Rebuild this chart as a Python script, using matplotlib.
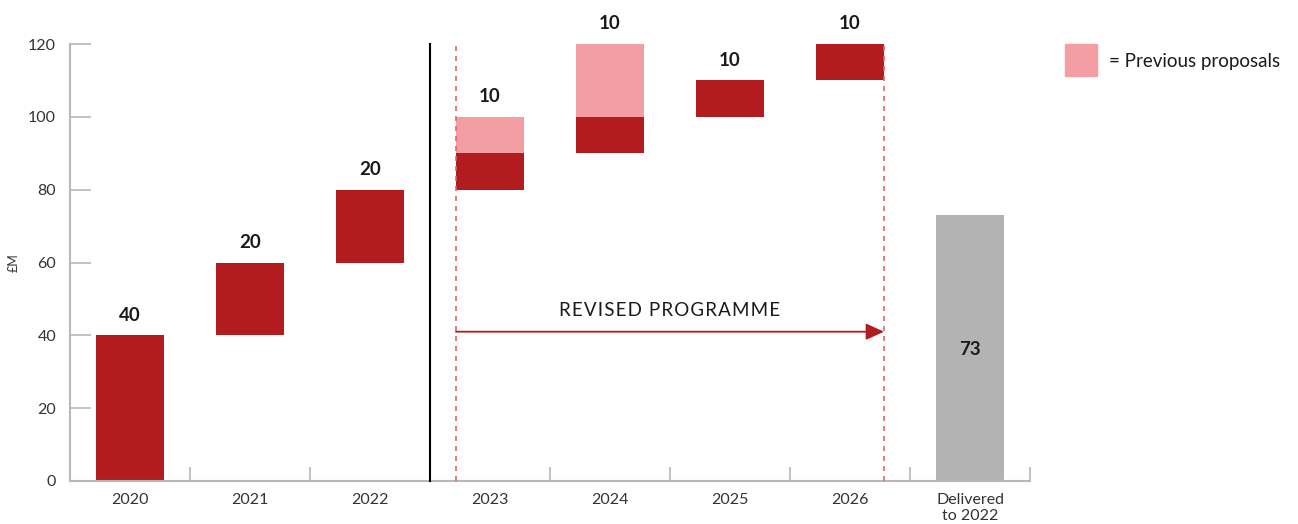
import matplotlib.pyplot as plt
from matplotlib.patches import Rectangle
import numpy as np

plt.rcParams['font.family'] = ['Lato', 'DejaVu Sans']

categories = ['2020', '2021', '2022', '2023', '2024', '2025', '2026', 'Delivered\nto 2022']
bases = [0, 40, 60, 80, 90, 100, 110]
revised = [40, 20, 20, 10, 10, 10, 10]
previous = [0, 0, 0, 10, 20, 0, 0]
labels = ['40', '20', '20', '10', '10', '10', '10']
delivered = 73

dark_red = '#b21c1e'
pink = '#f29ea3'
grey = '#b3b3b3'
axis_grey = '#b8b8b8'

fig = plt.figure(figsize=(12.98, 5.24), dpi=100)
ax = fig.add_axes([70 / 1298, 1 - 481 / 524, 960 / 1298, 437 / 524])

x = np.arange(len(categories))
w = 0.567
n = len(revised)

ax.bar(x[:n], revised, bottom=bases, width=w, color=dark_red, zorder=2)
tops = np.array(bases) + np.array(revised)
ax.bar(x[:n], previous, bottom=tops, width=w, color=pink, zorder=2)
ax.bar(x[n], delivered, width=w, color=grey, zorder=2)

for i in range(n):
    ax.text(x[i], tops[i] + previous[i] + 5.5, labels[i], ha='center', va='center',
            fontsize=13.5, fontweight='bold', color='#1a1a1a')
ax.text(x[n], 36, str(delivered), ha='center', va='center', fontsize=13.5,
        fontweight='bold', color='#1a1a1a')

# separator and programme markers
ax.plot([2.5, 2.5], [0, 120], color='black', lw=1.5, zorder=3, clip_on=False)
left = x[3] - w / 2
right = x[6] + w / 2
for xx in [left, right]:
    ax.plot([xx, xx], [0, 120], color='#d9676b', lw=1.2, ls=(0, (3, 3)), zorder=3, clip_on=False)
ax.annotate('', xy=(right, 41), xytext=(left, 41),
            arrowprops=dict(arrowstyle='-|>,head_length=1.1,head_width=0.5', color=dark_red, lw=1.3,
                            shrinkA=0, shrinkB=0))
ax.text((left + right) / 2, 46.7, '\u200a'.join('REVISED PROGRAMME'), ha='center', va='center',
        fontsize=13.5, color='#1a1a1a')

ax.set_xlim(-0.5, 7.5)
ax.set_ylim(0, 120)
ax.set_yticks([0, 20, 40, 60, 80, 100, 120])
ax.set_xticks(x)
ax.set_xticklabels(categories, linespacing=1.1)
ax.set_xticks(np.arange(0.5, 7.6, 1.0), minor=True)
ax.tick_params(axis='x', which='major', length=0, pad=9, labelsize=11.5, labelcolor='#333333')
ax.tick_params(axis='x', which='minor', direction='in', length=10, color=axis_grey, width=1.2)
ax.tick_params(axis='y', direction='in', length=15, color=axis_grey, width=1.2, pad=10,
               labelsize=11.5, labelcolor='#333333')
for s in ['top', 'right']:
    ax.spines[s].set_visible(False)
for s in ['left', 'bottom']:
    ax.spines[s].set_color(axis_grey)
    ax.spines[s].set_linewidth(1.5)
ax.set_ylabel('£M', fontsize=9, color='#333333')
ax.yaxis.set_label_coords(-50 / 960, 0.5)

# legend
fig.patches.append(Rectangle((1065 / 1298, 1 - 76 / 524), 32 / 1298, 32 / 524,
                             transform=fig.transFigure, color=pink))
fig.text(1109 / 1298, 1 - 62 / 524, '= Previous proposals', ha='left', va='center',
         fontsize=13.5, color='#1a1a1a')

fig.savefig('out.png', dpi=100)
